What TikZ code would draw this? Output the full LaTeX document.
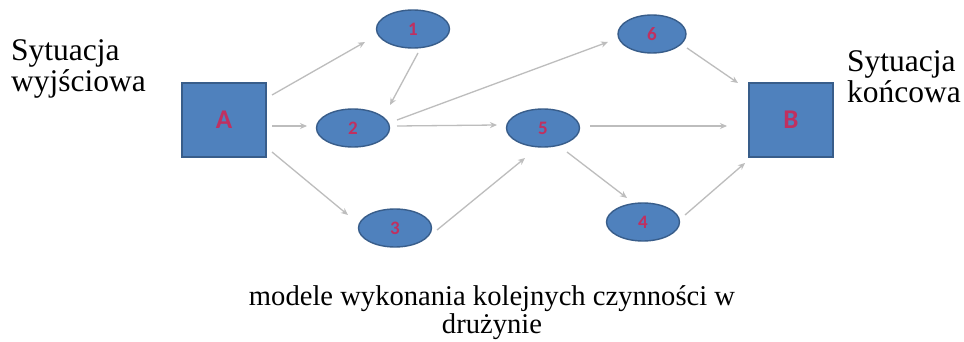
\documentclass[tikz,border=0pt]{standalone}
\usepackage{fontspec}
\setmainfont{Liberation Serif}
\newfontfamily\lblfont{Carlito}
\usetikzlibrary{shapes.geometric,arrows.meta}
\definecolor{boxblue}{HTML}{4F81BD}
\definecolor{boxedge}{HTML}{385D8A}
\definecolor{lblred}{RGB}{192,48,96}
\definecolor{arrgray}{HTML}{BDBDBD}
\tikzset{
  box/.style={rectangle, fill=boxblue, draw=boxedge, line width=1.2pt, minimum width=84pt, minimum height=74pt, inner sep=0pt, text=lblred, font=\lblfont\bfseries\fontsize{27}{27}\selectfont},
  oval/.style={ellipse, fill=boxblue, draw=boxedge, line width=1.4pt, minimum width=73pt, minimum height=38pt, inner sep=0pt, text=lblred, font=\lblfont\bfseries\fontsize{19}{19}\selectfont},
  arr/.style={draw=arrgray, line width=1.3pt, -{Stealth[length=7pt,width=6pt]}},
  sidetext/.style={align=left, anchor=base west, inner sep=0pt, font=\fontsize{31.5}{31}\selectfont},
  captext/.style={align=center, anchor=base, inner sep=0pt, font=\fontsize{28.6}{28}\selectfont}
}
\begin{document}
\begin{tikzpicture}[x=1pt, y=-1pt]
\useasboundingbox (0,0) rectangle (964,342);
\fill[white] (0,0) rectangle (964,342);
% nodes
\node[box] (A) at (224,120) {A};
\node[box] (B) at (791,120) {B};
\node[oval] (n1) at (413,29) {1};
\node[oval] (n2) at (353,128) {2};
\node[oval] (n3) at (395,228) {3};
\node[oval] (n4) at (643,222) {4};
\node[oval] (n5) at (543,128) {5};
\node[oval, minimum width=68pt] (n6) at (652,34) {6};
% texts
\node[sidetext] (lt) at (11,92) {Sytuacja\\wyjściowa};
\node[sidetext] (rt) at (847,103) {Sytuacja\\końcowa};
\node[captext] (cap) at (492,333) {modele wykonania kolejnych czynności w\\drużynie};
% arrows
\draw[arr] ([shift={(48,-25)}]A.center) -- ([shift={(-48,13)}]n1.center);
\draw[arr] ([shift={(5,24)}]n1.center) -- ([shift={(37,-23)}]n2.center);
\draw[arr] ([shift={(48,6)}]A.center) -- ([shift={(-46,-2)}]n2.center);
\draw[arr] ([shift={(48,32)}]A.center) -- ([shift={(-47,-13)}]n3.center);
\draw[arr] ([shift={(44,-8)}]n2.center) -- ([shift={(-44,8)}]n6.center);
\draw[arr] ([shift={(44,-2)}]n2.center) -- ([shift={(-46,-3)}]n5.center);
\draw[arr] ([shift={(47,-2)}]n5.center) -- ([shift={(-64,6)}]B.center);
\draw[arr] ([shift={(35,14)}]n6.center) -- ([shift={(-53,-37)}]B.center);
\draw[arr] ([shift={(42,2)}]n3.center) -- ([shift={(-18,30)}]n5.center);
\draw[arr] ([shift={(24,24)}]n5.center) -- ([shift={(-16,-24)}]n4.center);
\draw[arr] ([shift={(42,-7)}]n4.center) -- ([shift={(-46,43)}]B.center);
\end{tikzpicture}
\end{document}
